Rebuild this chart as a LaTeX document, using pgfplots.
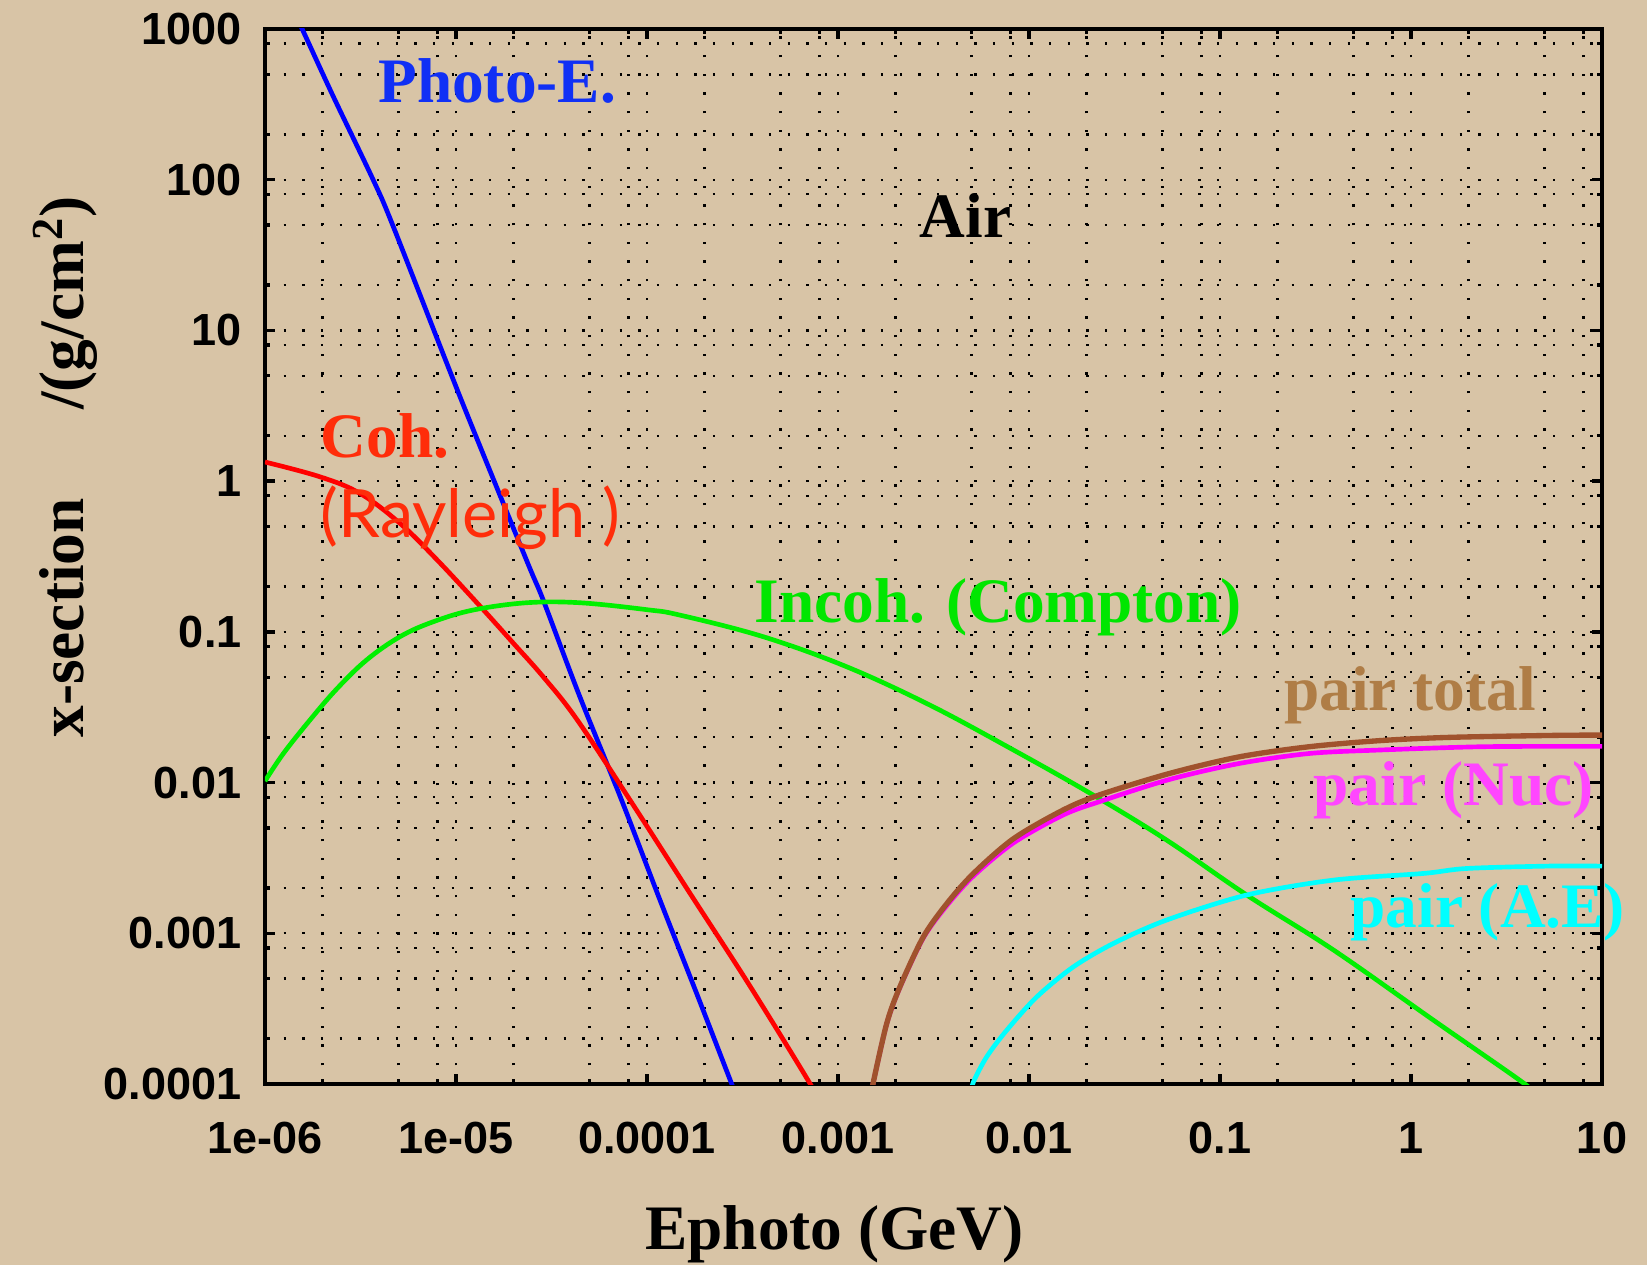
\documentclass[border=0pt]{standalone}
\usepackage{pgfplots}
\pgfplotsset{compat=1.18}
\usepackage{fontspec}
\setmainfont{Liberation Serif}
\newfontfamily\ticksans{Liberation Sans}
\newfontfamily\humanist{Lato}

\definecolor{paper}{RGB}{216,196,166}
\definecolor{photoline}{RGB}{0,0,255}
\definecolor{phototext}{RGB}{16,48,245}
\definecolor{cohline}{RGB}{255,0,0}
\definecolor{cohtext}{RGB}{255,45,10}
\definecolor{incline}{RGB}{0,240,0}
\definecolor{inctext}{RGB}{0,230,0}
\definecolor{pairtotline}{RGB}{160,82,45}
\definecolor{pairtottext}{RGB}{175,125,70}
\definecolor{nucline}{RGB}{255,0,255}
\definecolor{nuctext}{RGB}{255,70,255}
\definecolor{aeline}{RGB}{0,255,255}

\begin{document}
\begin{tikzpicture}
\fill[paper] (-79.5pt,-54.3pt) rectangle (414.6pt,325.2pt);
\begin{axis}[
  at={(0,0)}, anchor=south west,
  scale only axis, width=401.1pt, height=316.5pt,
  xmode=log, ymode=log,
  xmin=1e-6, xmax=10, ymin=1e-4, ymax=1000,
  clip mode=individual,
  xtick={1e-6,1e-5,1e-4,1e-3,1e-2,1e-1,1,10},
  xticklabels={1e-06,1e-05,0.0001,0.001,0.01,0.1,1,10},
  ytick={1e-4,1e-3,1e-2,1e-1,1,10,100,1000},
  yticklabels={0.0001,0.001,0.01,0.1,1,10,100,1000},
  minor xtick={2e-6,5e-6,8e-6,2e-5,5e-5,8e-5,2e-4,5e-4,8e-4,
               2e-3,5e-3,8e-3,0.02,0.05,0.08,0.2,0.5,0.8,2,5,8},
  minor ytick={2e-4,5e-4,8e-4,2e-3,5e-3,8e-3,0.02,0.05,0.08,
               0.2,0.5,0.8,2,5,8,20,50,80,200,500,800},
  ticklabel style={font=\ticksans\bfseries\fontsize{13.5}{14}\selectfont, text=black},
  xticklabel style={yshift=-8pt},
  yticklabel style={xshift=-3.5pt},
  grid=both,
  major grid style={black, line width=0.7pt, dash pattern=on 0.7pt off 4.9pt},
  minor grid style={black, line width=0.7pt, dash pattern=on 0.7pt off 4.9pt},
  axis line style={line width=1.3pt},
  major tick length=3pt, minor tick length=1.6pt,
  every tick/.style={black, line width=1pt},
  every axis plot/.append style={line width=1.4pt, line join=round},
]

% photo-electric absorption
\addplot[photoline, smooth, tension=0.5] coordinates {
  (1.51e-6,1096) (1.59e-6,959) (2.28e-6,356) (3.69e-6,99.5) (4.70e-6,48.75)
  (1.05e-5,3.63) (2.34e-5,0.299) (2.86e-5,0.163) (4.38e-5,0.0391)
  (7.36e-5,0.00766) (1.17e-4,1.66e-3) (1.82e-4,3.99e-4) (2.77e-4,1.009e-4)
  (2.88e-4,8.9e-5)
};

% coherent (Rayleigh) scattering
\addplot[cohline, smooth, tension=0.6] coordinates {
  (1e-6,1.340) (1.94e-6,1.069) (3.14e-6,0.830) (5.09e-6,0.525) (7.93e-6,0.302)
  (1.32e-5,0.1507) (2.00e-5,0.0839) (2.86e-5,0.0504) (4.29e-5,0.0263)
  (8.15e-5,0.00766) (1.68e-4,1.841e-3) (3.46e-4,4.467e-4) (7.13e-4,1.009e-4)
  (7.41e-4,8.9e-5)
};

% incoherent (Compton) scattering
\addplot[incline, smooth, tension=0.6] coordinates {
  (1e-6,0.01023) (1.25e-6,0.01563) (1.72e-6,0.0260) (2.37e-6,0.04169)
  (3.40e-6,0.0650) (5.09e-6,0.0929) (7.60e-6,0.1167) (1.23e-5,0.1396)
  (2.34e-5,0.1560) (4.46e-5,0.1560) (1e-4,0.1403) (1.49e-4,0.1291)
  (4.06e-4,0.0929) (1.11e-3,0.0587) (3.03e-3,0.03266) (8.30e-3,0.01644)
  (0.0217,0.00826) (0.0526,0.00415) (0.138,1.795e-3) (0.393,7.745e-4)
  (1.309,2.655e-4) (3.802,1.035e-4) (4.17,9.1e-5)
};

% pair production, atomic electrons
\addplot[aeline, smooth, tension=0.5] coordinates {
  (5.01e-3,8.9e-5) (5.12e-3,1.035e-4) (6.01e-3,1.517e-4) (7.66e-3,2.280e-4)
  (0.0110,3.793e-4) (0.0171,5.998e-4) (0.0277,8.57e-4) (0.0526,1.225e-3)
  (0.138,1.795e-3) (0.393,2.254e-3) (1.161,2.495e-3) (1.959,2.692e-3)
  (5.346,2.793e-3) (10,2.79e-3)
};

% pair production, nuclear field
\addplot[nucline, smooth, tension=0.5] coordinates {
  (1.479e-3,7.94e-5) (1.53e-3,1.02e-4) (1.80e-3,2.512e-4) (2.11e-3,4.365e-4)
  (2.80e-3,9.33e-4) (3.72e-3,1.531e-3) (5.12e-3,2.399e-3) (8.30e-3,3.981e-3)
  (0.0151,6.095e-3) (0.0236,7.499e-3) (0.0546,0.01050) (0.1265,0.01340)
  (0.294,0.01560) (0.681,0.01644) (2.404,0.01730) (10,0.01738)
};

% pair production, total
\addplot[pairtotline, line width=1.6pt, smooth, tension=0.5] coordinates {
  (1.479e-3,7.94e-5) (1.53e-3,1.023e-4) (1.80e-3,2.523e-4) (2.11e-3,4.416e-4)
  (2.80e-3,9.48e-4) (3.72e-3,1.578e-3) (5.12e-3,2.495e-3) (8.30e-3,4.246e-3)
  (0.0151,6.577e-3) (0.0236,8.318e-3) (0.0546,0.01151) (0.1265,0.01483)
  (0.294,0.01730) (0.681,0.01897) (1.578,0.01995) (5.572,0.02056) (10,0.02065)
};

\node[font=\bfseries\fontsize{19}{22}\selectfont, text=phototext]
  at (rel axis cs:0.1736,0.9507) {Photo-E.};
\node[font=\bfseries\fontsize{19}{22}\selectfont, text=black]
  at (rel axis cs:0.5239,0.8234) {Air};
\node[font=\bfseries\fontsize{19}{22}\selectfont, text=cohtext, anchor=west, inner sep=0pt]
  at (rel axis cs:0.0414,0.6141) {Coh.};
\node[font=\humanist\fontsize{20}{22}\selectfont, text=cohtext, anchor=west, inner sep=0pt]
  at (rel axis cs:0.0414,0.5364) {(Rayleigh )};
\node[font=\bfseries\fontsize{19}{22}\selectfont, text=inctext, anchor=west, inner sep=0pt]
  at (rel axis cs:0.3657,0.4521) {Incoh. (Compton)};
\node[font=\bfseries\fontsize{19}{22}\selectfont, text=pairtottext, anchor=west, inner sep=0pt]
  at (rel axis cs:0.7619,0.3683) {pair total};
\node[font=\bfseries\fontsize{19}{22}\selectfont, text=nuctext, anchor=west, inner sep=0pt]
  at (rel axis cs:0.7839,0.2786) {pair (Nuc)};
\node[font=\bfseries\fontsize{19}{22}\selectfont, text=aeline, anchor=west, inner sep=0pt]
  at (rel axis cs:0.8114,0.1631) {pair (A.E)};

\end{axis}
% axis titles
\node[font=\bfseries\fontsize{19}{22}\selectfont] at (0.426*401.1pt,-45pt) {Ephoto (GeV)};
\node[font=\bfseries\fontsize{19}{22}\selectfont, rotate=90] at (-60pt,0.585*316.5pt)
  {x-section\hspace{1.4em}/(g/cm\textsuperscript{2})};
\pgfresetboundingbox
\useasboundingbox (-79.5pt,-54.3pt) rectangle (414.6pt,325.2pt);
\end{tikzpicture}
\end{document}
